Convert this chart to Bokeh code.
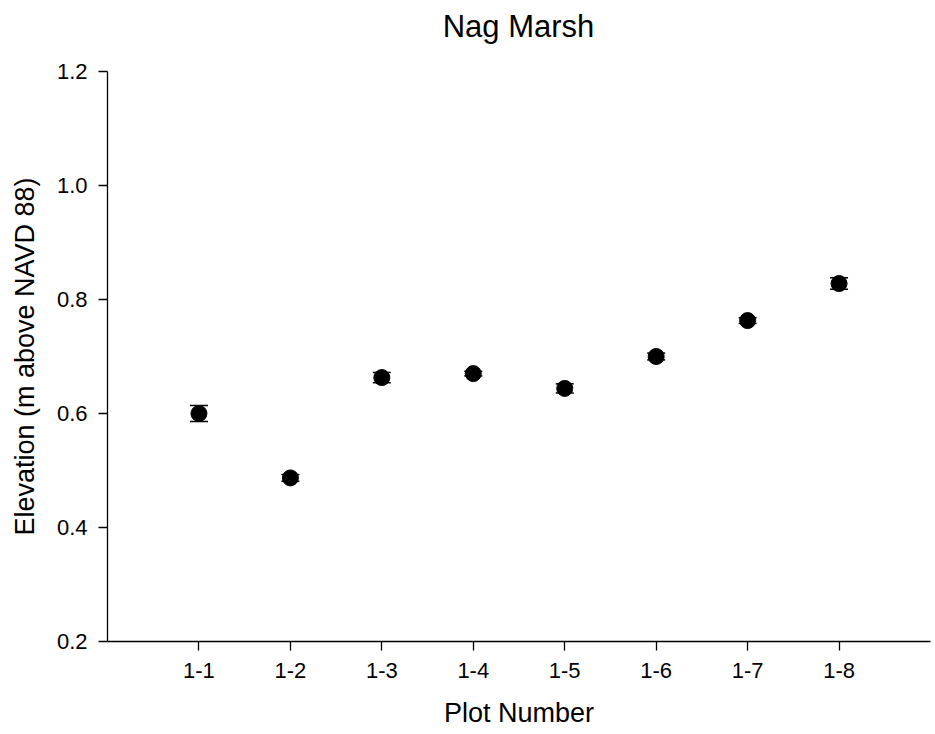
from bokeh.plotting import figure
from bokeh.layouts import column
from bokeh.models import ColumnDataSource, Whisker, FixedTicker, Range1d, TeeHead, Div
from bokeh.embed import file_html
from bokeh.resources import INLINE

plots = ["1-1", "1-2", "1-3", "1-4", "1-5", "1-6", "1-7", "1-8"]
elevation = [0.600, 0.487, 0.663, 0.670, 0.644, 0.700, 0.763, 0.828]
err = [0.014, 0.006, 0.009, 0.004, 0.008, 0.006, 0.005, 0.010]
y_ticks = [0.2, 0.4, 0.6, 0.8, 1.0, 1.2]
title_text = "Nag Marsh"

xpos = list(range(1, len(plots) + 1))
src = ColumnDataSource(dict(
    x=xpos, y=elevation,
    lo=[e - d for e, d in zip(elevation, err)],
    hi=[e + d for e, d in zip(elevation, err)],
))

FONT = "Liberation Sans"

title = Div(text=title_text, width=935, height=50, margin=0,
            styles={"font-family": FONT, "font-size": "31px", "text-align": "center",
                    "text-indent": "102px", "line-height": "54px", "color": "black",
                    "width": "935px"})

p = figure(width=935, height=684, output_backend="svg", toolbar_location=None,
           x_range=Range1d(0, 9), y_range=Range1d(0.2, 1.2), margin=0,
           min_border_left=107, min_border_right=5, min_border_top=21, min_border_bottom=93)

p.outline_line_color = None
p.grid.visible = False
p.background_fill_color = "white"
p.border_fill_color = "white"

for ax in (p.xaxis[0], p.yaxis[0]):
    ax.axis_line_color = "black"
    ax.axis_line_width = 1.3
    ax.major_tick_line_color = "black"
    ax.major_tick_line_width = 1.3
    ax.major_tick_in = 0
    ax.major_tick_out = 9
    ax.minor_tick_line_color = None
    ax.major_label_text_font = FONT
    ax.major_label_text_font_size = "22px"
    ax.major_label_text_color = "black"
    ax.axis_label_text_font = FONT
    ax.axis_label_text_font_size = "27px"
    ax.axis_label_text_font_style = "normal"
    ax.axis_label_text_color = "black"

p.xaxis.ticker = FixedTicker(ticks=xpos)
p.xaxis.major_label_overrides = {i: lab for i, lab in zip(xpos, plots)}
p.xaxis.axis_label = "Plot Number"
p.xaxis.major_label_standoff = 12
p.xaxis.axis_label_standoff = 17

p.yaxis.ticker = FixedTicker(ticks=y_ticks)
p.yaxis.major_label_overrides = {t: f"{t:.1f}" for t in y_ticks}
p.yaxis.axis_label = "Elevation (m above NAVD 88)"
p.yaxis.major_label_standoff = 11
p.yaxis.axis_label_standoff = 14

w = Whisker(source=src, base="x", lower="lo", upper="hi", line_color="black", line_width=1.5,
            upper_head=TeeHead(size=18, line_color="black", line_width=1.5),
            lower_head=TeeHead(size=18, line_color="black", line_width=1.5))
p.add_layout(w)
p.scatter("x", "y", source=src, size=16, fill_color="black", line_color="black")

layout = column(title, p, spacing=0, margin=0)
open("out.html", "w").write(file_html(layout, INLINE))
